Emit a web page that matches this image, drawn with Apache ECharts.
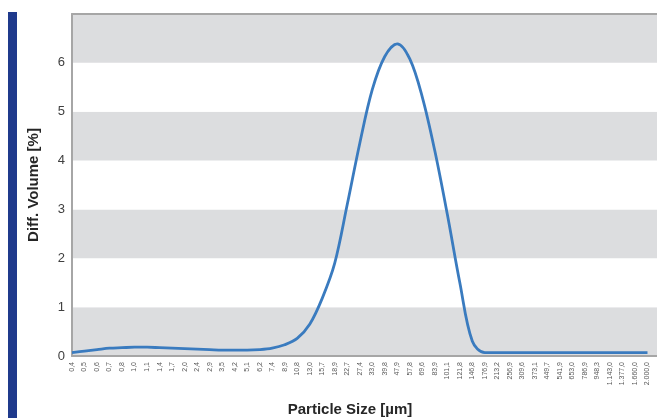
<!DOCTYPE html>
<html>
<head>
<meta charset="utf-8">
<script src="https://cdn.jsdelivr.net/npm/echarts@6/dist/echarts.min.js"></script>
<style>
html,body{margin:0;padding:0;background:#fff;}
#chart{width:657px;height:418px;}
</style>
</head>
<body>
<div id="chart"></div>
<script>
var categories = ['0,4','0,5','0,6','0,7','0,8','1,0','1,1','1,4','1,7','2,0','2,4','2,9','3,5','4,2','5,1','6,2','7,4','8,9','10,8','13,0','15,7','18,9','22,7','27,4','33,0','39,8','47,9','57,8','69,6','83,9','101,1','121,8','146,8','176,9','213,2','256,9','309,6','373,1','449,7','541,9','653,0','786,9','948,3','1.143,0','1.377,0','1.660,0','2.000,0'];
var volume = [0.07,0.10,0.13,0.16,0.17,0.18,0.18,0.17,0.16,0.15,0.14,0.13,0.12,0.12,0.12,0.13,0.16,0.23,0.36,0.65,1.18,1.90,3.10,4.35,5.45,6.13,6.39,6.08,5.30,4.20,2.90,1.50,0.30,0.07,0.07,0.07,0.07,0.07,0.07,0.07,0.07,0.07,0.07,0.07,0.07,0.07,0.07];
var yTicks = [0,1,2,3,4,5,6,7];

var points = volume.map(function(v,i){return [i,v];});
var chart = echarts.init(document.getElementById('chart'));
chart.setOption({
  animation:false,
  backgroundColor:'#ffffff',
  grid:{left:72,right:0,top:14,bottom:62,containLabel:false,outerBoundsMode:'none'},
  graphic:[{type:'rect',shape:{x:8,y:12,width:9,height:406},style:{fill:'#1f3a8c'}}],
  xAxis:[{
    type:'value',min:0,max:46.76,interval:1,
    name:'Particle Size [µm]',nameLocation:'middle',nameGap:46,
    nameTextStyle:{fontFamily:'Liberation Sans',fontSize:15,fontWeight:'bold',color:'#262626',padding:[0,29,0,0]},
    axisLine:{show:true,onZero:false,lineStyle:{color:'#a6a6a6',width:2}},
    axisTick:{show:false},
    splitLine:{show:false},
    axisLabel:{rotate:90,fontSize:7,color:'#595959',fontFamily:'Liberation Sans',margin:6,
      showMaxLabel:false,
      formatter:function(v){return (Math.abs(v-Math.round(v))<1e-6 && categories[Math.round(v)]!==undefined)?categories[Math.round(v)]:'';}}
  },{
    type:'value',position:'top',min:0,max:46.76,
    axisLine:{show:true,onZero:false,lineStyle:{color:'#a6a6a6',width:2}},
    axisTick:{show:false},axisLabel:{show:false},splitLine:{show:false}
  }],
  yAxis:{
    type:'value',min:yTicks[0],max:yTicks[yTicks.length-1],interval:1,
    name:'Diff. Volume [%]',nameLocation:'middle',nameGap:31,
    nameTextStyle:{fontFamily:'Liberation Sans',fontSize:15,fontWeight:'bold',color:'#262626'},
    axisLine:{show:true,lineStyle:{color:'#a6a6a6',width:2}},
    axisTick:{show:false},
    splitLine:{show:false},
    splitArea:{show:true,areaStyle:{color:['#dcdddf','#ffffff']}},
    axisLabel:{fontSize:13,color:'#404040',fontFamily:'Liberation Sans',margin:7,showMaxLabel:false}
  },
  series:[{
    type:'line',data:points,smooth:0.35,symbol:'none',
    lineStyle:{color:'#3a7bbf',width:2.8}
  }]
});
</script>
</body>
</html>
